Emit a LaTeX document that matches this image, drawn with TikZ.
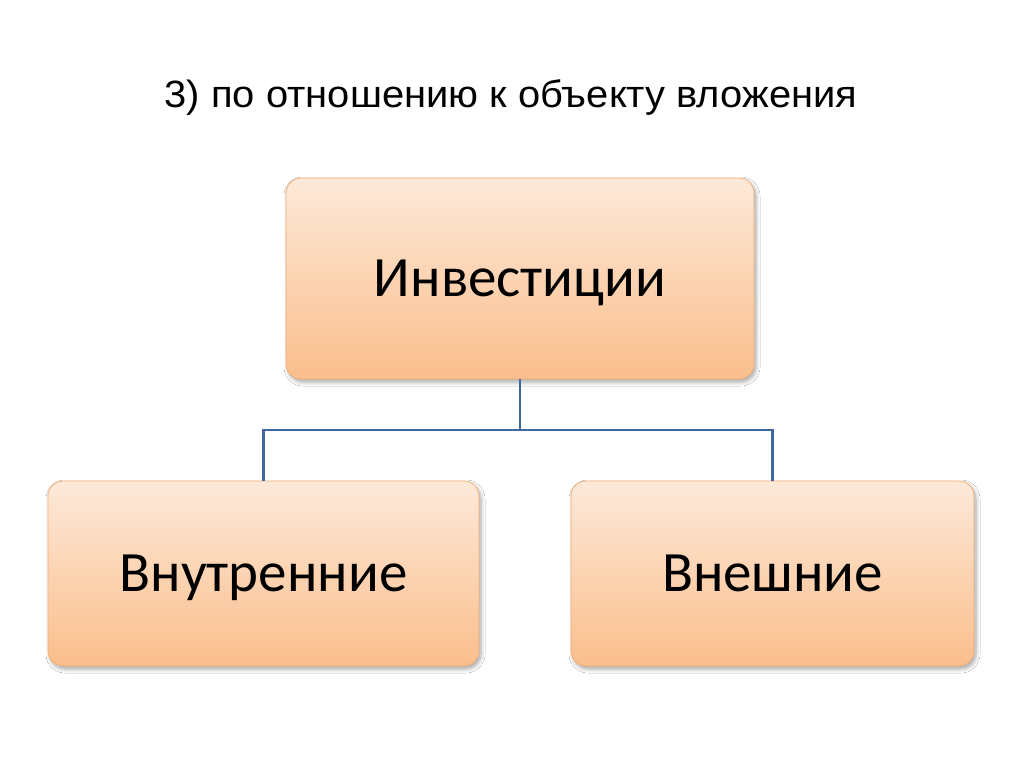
\documentclass[tikz,border=0pt]{standalone}
\usepackage{fontspec}
\setmainfont{Carlito}
\newfontfamily\titlefont{Liberation Sans}
\usetikzlibrary{shadows.blur}
\definecolor{peachTop}{RGB}{253,233,217}
\definecolor{peachBot}{RGB}{250,190,140}
\definecolor{peachBorder}{RGB}{244,176,120}
\definecolor{linkBlue}{RGB}{62,102,160}
\tikzset{
  box/.style={rectangle, rounded corners=15pt, draw=peachBorder, line width=0.8pt,
    top color=peachTop, bottom color=peachBot, inner sep=0pt,
    font=\fontsize{57}{62}\selectfont, text=black, text height=36pt, text depth=0pt,
    blur shadow={shadow xshift=2pt, shadow yshift=-3pt, shadow blur steps=6, shadow opacity=35, shadow blur radius=4pt}},
  link/.style={draw=linkBlue, line width=2.2pt},
  title/.style={font=\titlefont\fontsize{38}{42}\selectfont, text=black, inner sep=0pt}
}
\begin{document}
\begin{tikzpicture}[x=1pt,y=-1pt]
\useasboundingbox[fill=white] (0,0) rectangle (1024,767);
\node[title, anchor=base] (t) at (511,108) {\scalebox{1.05}[1]{3) по отношению к объекту вложения}};
\node[box, minimum width=468pt, minimum height=201pt] (top) at (520,278.5) {Инвестиции};
\node[box, minimum width=431pt, minimum height=185pt] (left) at (263.5,573.5) {Внутренние};
\node[box, minimum width=403pt, minimum height=185pt] (right) at (772.5,573.5) {Внешние};
\coordinate (j) at (520,430);
\draw[link] (top.south) -- (j) -| (left.north);
\draw[link] (j) -| (right.north);
\end{tikzpicture}
\end{document}
